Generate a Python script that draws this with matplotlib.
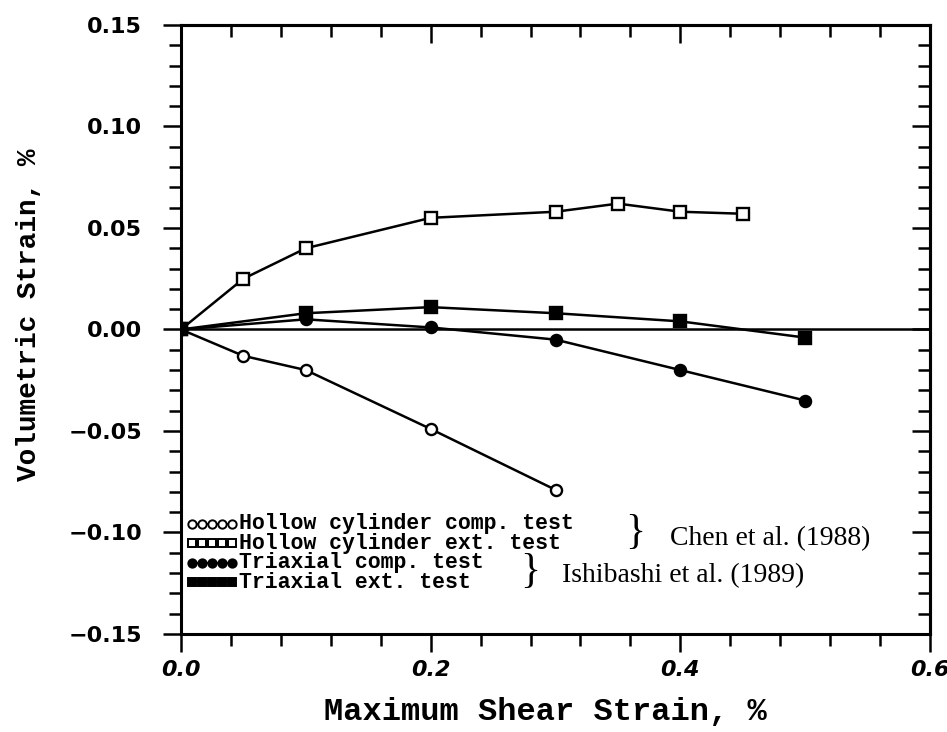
import numpy as np
from matplotlib import pyplot as plt
from matplotlib.ticker import MultipleLocator, NullFormatter

# data
hc_comp_x = [0.0, 0.05, 0.10, 0.20, 0.30]
hc_comp_y = [0.0, -0.013, -0.020, -0.049, -0.079]

hc_ext_x = [0.0, 0.05, 0.10, 0.20, 0.30, 0.35, 0.40, 0.45]
hc_ext_y = [0.0, 0.025, 0.040, 0.055, 0.058, 0.062, 0.058, 0.057]

tx_comp_x = [0.0, 0.10, 0.20, 0.30, 0.40, 0.50]
tx_comp_y = [0.0, 0.005, 0.001, -0.005, -0.020, -0.035]

tx_ext_x = [0.0, 0.10, 0.20, 0.30, 0.40, 0.50]
tx_ext_y = [0.0, 0.008, 0.011, 0.008, 0.004, -0.004]

legend_labels = ['Hollow cylinder comp. test', 'Hollow cylinder ext. test',
                 'Triaxial comp. test', 'Triaxial ext. test']
source_labels = ['Chen et al. (1988)', 'Ishibashi et al. (1989)']

mono = 'Liberation Mono'
serif = 'Liberation Serif'

fig = plt.figure(figsize=(9.47, 7.32), dpi=100)
ax = fig.add_axes([0.1911, 0.1339, 0.791, 0.832])

lw = 1.8
ax.axhline(0, color='black', lw=lw, zorder=1)
styles = [
    (hc_comp_x, hc_comp_y, 'o', 'white'),
    (hc_ext_x, hc_ext_y, 's', 'white'),
    (tx_comp_x, tx_comp_y, 'o', 'black'),
    (tx_ext_x, tx_ext_y, 's', 'black'),
]
for x, y, m, fc in styles:
    ax.plot(x, y, color='black', lw=lw, marker=m, ms=8, mfc=fc,
            mec='black', mew=1.7, zorder=3)
# the common origin point is drawn filled
ax.plot([0], [0], 'o', color='black', ms=9, zorder=4)

ax.set_xlim(0, 0.6)
ax.set_ylim(-0.15, 0.15)

for s in ax.spines.values():
    s.set_linewidth(2.2)

# left / bottom ticks point out, top / right ticks point in
top = ax.secondary_xaxis('top')
right = ax.secondary_yaxis('right')
for a in (ax, top):
    a.xaxis.set_major_locator(MultipleLocator(0.2))
    a.xaxis.set_minor_locator(MultipleLocator(0.04))
for a in (ax, right):
    a.yaxis.set_major_locator(MultipleLocator(0.05))
    a.yaxis.set_minor_locator(MultipleLocator(0.01))
top.xaxis.set_major_formatter(NullFormatter())
right.yaxis.set_major_formatter(NullFormatter())
top.spines['top'].set_linewidth(2.2)
right.spines['right'].set_linewidth(2.2)

ax.tick_params(which='both', width=1.8, direction='out')
ax.tick_params(which='major', length=13)
ax.tick_params(which='minor', length=8.5)
for a in (top, right):
    a.tick_params(which='both', width=1.8, direction='in')
    a.tick_params(which='major', length=13)
    a.tick_params(which='minor', length=8.5)

ax.tick_params(axis='y', pad=15)
ax.tick_params(axis='x', pad=6)
for lab in ax.get_yticklabels():
    lab.set_fontfamily('DejaVu Sans')
    lab.set_fontweight('bold')
    lab.set_fontsize(16)
for lab in ax.get_xticklabels():
    lab.set_fontfamily('DejaVu Sans')
    lab.set_fontweight('bold')
    lab.set_fontstyle('italic')
    lab.set_fontsize(16)

ax.set_xlabel('Maximum Shear Strain, %', family=mono, fontweight='bold',
              fontsize=23)
ax.set_ylabel('Volumetric Strain, %', family=mono, fontweight='bold',
              fontsize=20)
ax.xaxis.set_label_coords(0.487, -0.103)
ax.yaxis.set_label_coords(-0.186, 0.524)

# hand-made legend in the lower left
row_y = [0.181, 0.149, 0.117, 0.085]
marks = [('o', 'white'), ('s', 'white'), ('o', 'black'), ('s', 'black')]
for ry, (m, fc), lab in zip(row_y, marks, legend_labels):
    ax.plot(np.linspace(0.015, 0.068, 5), [ry] * 5, transform=ax.transAxes,
            color='black', lw=1.5, marker=m, ms=6, mfc=fc, mec='black',
            mew=1.4, clip_on=False)
    ax.text(0.077, ry, lab, transform=ax.transAxes, family=mono,
            fontweight='bold', fontsize=15.5, va='center', ha='left')

ax.text(0.606, 0.166, '}', transform=ax.transAxes, family=serif,
        fontsize=30, va='center', ha='center')
ax.text(0.653, 0.156, source_labels[0], transform=ax.transAxes, family=serif,
        fontsize=20, va='center', ha='left')
ax.text(0.466, 0.102, '}', transform=ax.transAxes, family=serif,
        fontsize=30, va='center', ha='center')
ax.text(0.509, 0.096, source_labels[1], transform=ax.transAxes, family=serif,
        fontsize=20, va='center', ha='left')

fig.savefig('out.png', dpi=100)
